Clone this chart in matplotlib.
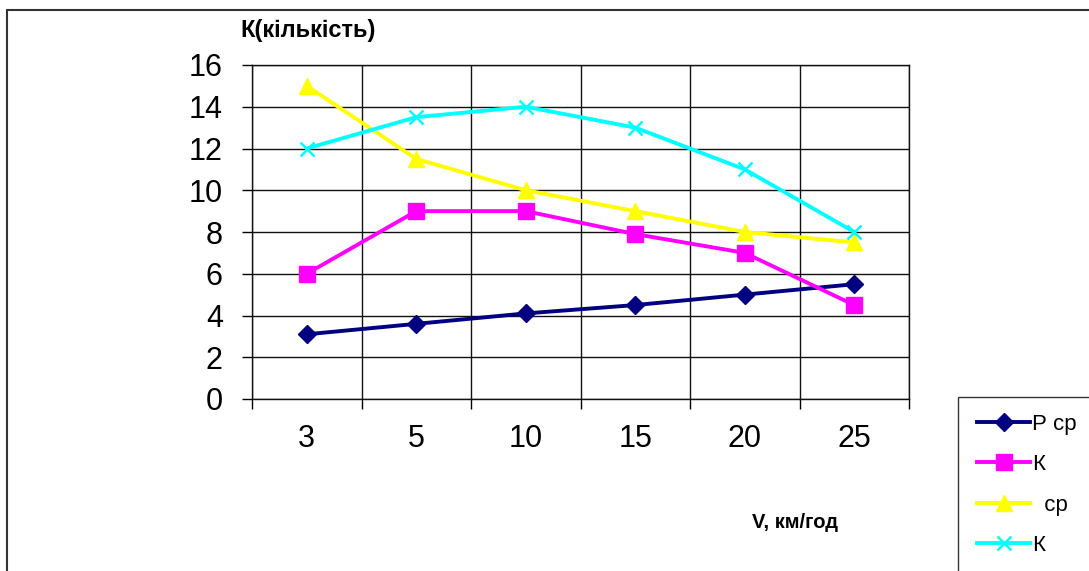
import matplotlib.pyplot as plt
from matplotlib.patches import Rectangle
import numpy as np

plt.rcParams['font.family'] = ['Liberation Sans', 'DejaVu Sans']

speeds = ['3', '5', '10', '15', '20', '25']
p_sr = [3.1, 3.6, 4.1, 4.5, 5.0, 5.5]
k_pink = [6, 9, 9, 7.9, 7, 4.5]
sr_yellow = [15, 11.5, 10, 9, 8, 7.5]
k_cyan = [12, 13.5, 14, 13, 11, 8]

x = np.arange(len(speeds))

fig = plt.figure(figsize=(10.89, 5.71), dpi=100)
ax = fig.add_axes([252/1089, 1-399/571, (909-252)/1089, (399-65)/571])

ax.plot(x, p_sr, color='#000080', lw=2.8, marker='D', ms=9, label='Р ср')
ax.plot(x, k_pink, color='#ff00ff', lw=2.8, marker='s', ms=11, label='К')
ax.plot(x, sr_yellow, color='#ffff00', lw=2.8, marker='^', ms=11, label='  ср')
ax.plot(x, k_cyan, color='#00ffff', lw=2.8, marker='x', ms=10, mew=1.8, label='К')

ax.set_xlim(-0.5, len(speeds) - 0.5)
ax.set_ylim(0, 16)
ax.set_yticks(range(0, 17, 2))
ax.set_xticks(x)
ax.set_xticklabels(speeds)
ax.set_xticks(np.arange(-0.5, len(speeds)), minor=True)
ax.grid(True, which='minor', axis='x', color='#111111', lw=1)
ax.grid(True, which='major', axis='y', color='#111111', lw=1)
ax.tick_params(axis='x', which='major', length=0, pad=18, labelsize=22)
ax.tick_params(axis='x', which='minor', length=7, width=1, direction='out')
ax.tick_params(axis='y', length=7, width=1, direction='out', pad=14, labelsize=22)
for s in ax.spines.values():
    s.set_color('#111111')
    s.set_linewidth(1)
ax.set_axisbelow(True)

fig.text(240/1089, 1-30/571, 'К(кількість)', fontsize=17, fontweight='bold', va='center')
fig.text(752/1089, 1-522/571, 'V, км/год', fontsize=14.5, fontweight='bold', va='center')

# outer frame of the chart and legend box
fig.patches.append(Rectangle((7/1089, -0.05), 1.1, 1-10/571 + 0.05, transform=fig.transFigure,
                             fill=False, edgecolor='#333333', lw=1.5))
fig.patches.append(Rectangle((958/1089, -0.05), 0.2, 1-397/571 + 0.05,
                             transform=fig.transFigure, fill=False,
                             edgecolor='#333333', lw=1))

fig.legend(loc='upper left', bbox_to_anchor=(968/1089, 1-405/571), frameon=False,
           fontsize=16, handlelength=2.4, handletextpad=0.1, labelspacing=0.87,
           borderaxespad=0)

fig.savefig('out.png', dpi=100)
